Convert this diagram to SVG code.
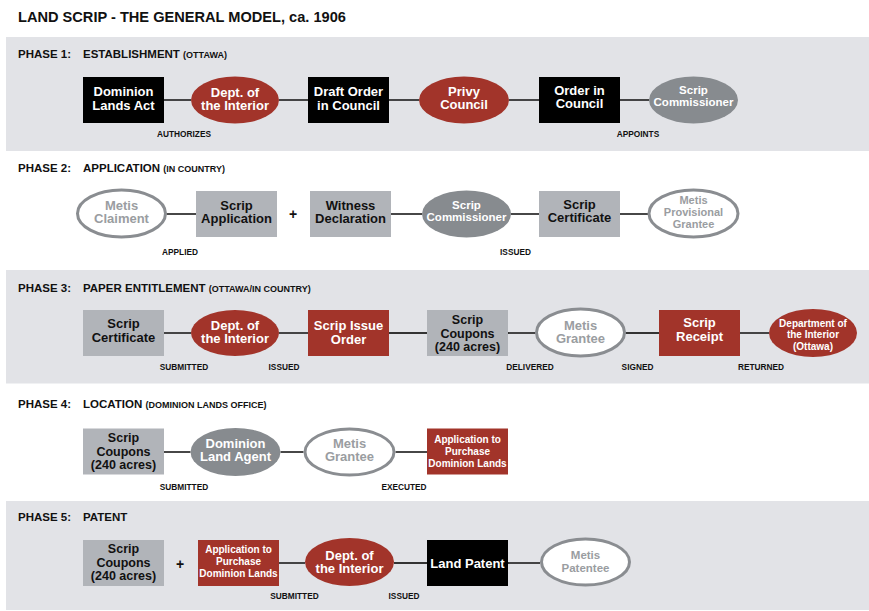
<svg xmlns="http://www.w3.org/2000/svg" width="869" height="611" viewBox="0 0 869 611">
<style>
text{font-family:"Liberation Sans",Arial,sans-serif;font-weight:bold;text-anchor:middle}
.title{font-size:14.6px;text-anchor:start;fill:#111}
.ph{font-size:11.5px;text-anchor:start;fill:#111}
.sub{font-size:9px}
.panel{fill:#e2e3e7}
.blk{fill:#000}
.red{fill:#a2342a}
.gr{fill:#b1b4b9}
.ge{fill:#878b8f}
.wh{fill:#fff;stroke:#8a8d91;stroke-width:3}
.t{font-size:13px}
.c{font-size:12.5px}
.tw{fill:#fff}
.tk{fill:#111}
.tg{fill:#9a9da1}
.s{font-size:11.5px}
.s3{font-size:11px}
.xs{font-size:10px}
.lbl{font-size:8.3px;fill:#111}
.plus{font-size:14px;fill:#111}
#connectors line{stroke:#333;stroke-width:1.8}
</style>
<rect class="panel" x="6" y="37" width="863" height="114"/>
<rect class="panel" x="6" y="270" width="863" height="113.5"/>
<rect class="panel" x="6" y="501" width="863" height="109"/>
<text class="title" x="18" y="22">LAND SCRIP - THE GENERAL MODEL, ca. 1906</text>
<text class="ph" x="18" y="58">PHASE 1:</text><text class="ph" x="83" y="58">ESTABLISHMENT <tspan class="sub">(OTTAWA)</tspan></text>
<text class="ph" x="18" y="172">PHASE 2:</text><text class="ph" x="83" y="172">APPLICATION <tspan class="sub">(IN COUNTRY)</tspan></text>
<text class="ph" x="18" y="292">PHASE 3:</text><text class="ph" x="83" y="292">PAPER ENTITLEMENT <tspan class="sub">(OTTAWA/IN COUNTRY)</tspan></text>
<text class="ph" x="18" y="408">PHASE 4:</text><text class="ph" x="83" y="408">LOCATION <tspan class="sub">(DOMINION LANDS OFFICE)</tspan></text>
<text class="ph" x="18" y="521">PHASE 5:</text><text class="ph" x="83" y="521">PATENT</text>

<g id="connectors">
<line x1="164" y1="100" x2="191" y2="100"/>
<line x1="279" y1="100" x2="308" y2="100"/>
<line x1="389" y1="100" x2="419" y2="100"/>
<line x1="509" y1="100" x2="539" y2="100"/>
<line x1="620" y1="100" x2="649" y2="100"/>
<line x1="166.5" y1="214" x2="196" y2="214"/>
<line x1="391" y1="214" x2="422" y2="214"/>
<line x1="511" y1="214" x2="539" y2="214"/>
<line x1="620" y1="214" x2="648" y2="214"/>
<line x1="164" y1="333" x2="191" y2="333"/>
<line x1="279" y1="333" x2="308" y2="333"/>
<line x1="389" y1="333" x2="427" y2="333"/>
<line x1="508" y1="333" x2="535.5" y2="333"/>
<line x1="625.5" y1="333" x2="659" y2="333"/>
<line x1="740" y1="333" x2="769" y2="333"/>
<line x1="164" y1="452" x2="190.5" y2="452"/>
<line x1="280.5" y1="452" x2="303.5" y2="452"/>
<line x1="395.5" y1="452" x2="427" y2="452"/>
<line x1="279" y1="563" x2="305" y2="563"/>
<line x1="394" y1="563" x2="427" y2="563"/>
<line x1="508" y1="563" x2="540" y2="563"/>
<text class="lbl" x="184" y="136.5">AUTHORIZES</text>
<text class="lbl" x="638" y="136.5">APPOINTS</text>
<text class="lbl" x="180" y="255">APPLIED</text>
<text class="lbl" x="515.5" y="255">ISSUED</text>
<text class="lbl" x="184" y="370">SUBMITTED</text>
<text class="lbl" x="284" y="370">ISSUED</text>
<text class="lbl" x="530" y="370">DELIVERED</text>
<text class="lbl" x="637.5" y="370">SIGNED</text>
<text class="lbl" x="761" y="370">RETURNED</text>
<text class="lbl" x="184" y="490">SUBMITTED</text>
<text class="lbl" x="404" y="490">EXECUTED</text>
<text class="lbl" x="294.5" y="599">SUBMITTED</text>
<text class="lbl" x="404" y="599">ISSUED</text>
</g>

<!-- Phase 1 -->
<g id="p1-dominion-lands-act"><rect class="blk" x="83" y="77" width="81" height="46"/><text class="t tw" x="123.5" y="96.3">Dominion<tspan x="123.5" dy="13.4">Lands Act</tspan></text></g>
<g id="p1-dept-interior"><ellipse class="red" cx="235" cy="100" rx="44" ry="23.5"/><text class="t tw" x="235" y="96.6">Dept. of<tspan x="235" dy="13.4">the Interior</tspan></text></g>
<g id="p1-draft-order"><rect class="blk" x="308" y="77" width="81" height="46"/><text class="t tw" x="348.5" y="96.3">Draft Order<tspan x="348.5" dy="13.4">in Council</tspan></text></g>
<g id="p1-privy-council"><ellipse class="red" cx="464" cy="100" rx="45" ry="23.5"/><text class="t tw" x="464" y="95.8">Privy<tspan x="464" dy="13.4">Council</tspan></text></g>
<g id="p1-order-in-council"><rect class="blk" x="539" y="77" width="81" height="46"/><text class="t tw" x="579.5" y="94.7">Order in<tspan x="579.5" dy="13.4">Council</tspan></text></g>
<g id="p1-scrip-commissioner"><ellipse class="ge" cx="693.5" cy="100" rx="44.5" ry="23.5"/><text class="s tw" x="693.5" y="94">Scrip<tspan x="693.5" dy="12">Commissioner</tspan></text></g>

<!-- Phase 2 -->
<g id="p2-metis-claiment"><ellipse class="wh" cx="121.5" cy="213.5" rx="44" ry="23.5"/><text class="t tg" x="121.5" y="210">Metis<tspan x="121.5" dy="13.4">Claiment</tspan></text></g>
<g id="p2-scrip-application"><rect class="gr" x="196" y="191" width="81" height="46"/><text class="t tk" x="236.5" y="209.5">Scrip<tspan x="236.5" dy="13.4">Application</tspan></text></g>
<text class="plus" x="293" y="218.5">+</text>
<g id="p2-witness-declaration"><rect class="gr" x="310" y="191" width="81" height="46"/><text class="t tk" x="350.5" y="209.7">Witness<tspan x="350.5" dy="13.4">Declaration</tspan></text></g>
<g id="p2-scrip-commissioner"><ellipse class="ge" cx="466.5" cy="214" rx="44.5" ry="23.5"/><text class="s tw" x="466.5" y="209">Scrip<tspan x="466.5" dy="12">Commissioner</tspan></text></g>
<g id="p2-scrip-certificate"><rect class="gr" x="539" y="191" width="81" height="46"/><text class="t tk" x="579.5" y="208.8">Scrip<tspan x="579.5" dy="13.4">Certificate</tspan></text></g>
<g id="p2-metis-provisional-grantee"><ellipse class="wh" cx="693.5" cy="213.5" rx="44.5" ry="23.5"/><text class="s3 tg" x="693.5" y="204">Metis<tspan x="693.5" dy="12">Provisional</tspan><tspan x="693.5" dy="12">Grantee</tspan></text></g>

<!-- Phase 3 -->
<g id="p3-scrip-certificate"><rect class="gr" x="83" y="310" width="81" height="46"/><text class="t tk" x="123.5" y="328.3">Scrip<tspan x="123.5" dy="13.4">Certificate</tspan></text></g>
<g id="p3-dept-interior"><ellipse class="red" cx="235" cy="333" rx="44" ry="23"/><text class="t tw" x="235" y="329.8">Dept. of<tspan x="235" dy="13.4">the Interior</tspan></text></g>
<g id="p3-scrip-issue-order"><rect class="red" x="308" y="310" width="81" height="46"/><text class="t tw" x="348.5" y="330.4">Scrip Issue<tspan x="348.5" dy="13.4">Order</tspan></text></g>
<g id="p3-scrip-coupons"><rect class="gr" x="427" y="310" width="81" height="46"/><text class="c tk" x="467.5" y="324">Scrip<tspan x="467.5" dy="13.5">Coupons</tspan><tspan x="467.5" dy="13.5">(240 acres)</tspan></text></g>
<g id="p3-metis-grantee"><ellipse class="wh" cx="580.5" cy="332.5" rx="44" ry="23.5"/><text class="t tg" x="580.5" y="330">Metis<tspan x="580.5" dy="13.4">Grantee</tspan></text></g>
<g id="p3-scrip-receipt"><rect class="red" x="659" y="310" width="81" height="46"/><text class="t tw" x="699.5" y="327.3">Scrip<tspan x="699.5" dy="13.4">Receipt</tspan></text></g>
<g id="p3-dept-interior-ottawa"><ellipse class="red" cx="813" cy="333" rx="44" ry="24"/><text class="xs tw" x="813" y="326.5">Department of<tspan x="813" dy="11.7">the Interior</tspan><tspan x="813" dy="11.7">(Ottawa)</tspan></text></g>

<!-- Phase 4 -->
<g id="p4-scrip-coupons"><rect class="gr" x="83" y="428.5" width="81" height="46"/><text class="c tk" x="123.5" y="442">Scrip<tspan x="123.5" dy="13.5">Coupons</tspan><tspan x="123.5" dy="13.5">(240 acres)</tspan></text></g>
<g id="p4-dominion-land-agent"><ellipse class="ge" cx="235.5" cy="452" rx="45" ry="24"/><text class="t tw" x="235.5" y="447.5">Dominion<tspan x="235.5" dy="13.5">Land Agent</tspan></text></g>
<g id="p4-metis-grantee"><ellipse class="wh" cx="349.5" cy="452" rx="44.5" ry="23"/><text class="t tg" x="349.5" y="447.5">Metis<tspan x="349.5" dy="13.5">Grantee</tspan></text></g>
<g id="p4-application"><rect class="red" x="427" y="428.5" width="81" height="46"/><text class="xs tw" x="467.5" y="443.2">Application to<tspan x="467.5" dy="11.7">Purchase</tspan><tspan x="467.5" dy="11.7">Dominion Lands</tspan></text></g>

<!-- Phase 5 -->
<g id="p5-scrip-coupons"><rect class="gr" x="83" y="540" width="81" height="46"/><text class="c tk" x="123.5" y="553.3">Scrip<tspan x="123.5" dy="13.5">Coupons</tspan><tspan x="123.5" dy="13.5">(240 acres)</tspan></text></g>
<text class="plus" x="180" y="569">+</text>
<g id="p5-application"><rect class="red" x="198" y="540" width="81" height="46"/><text class="xs tw" x="238.5" y="553.3">Application to<tspan x="238.5" dy="11.7">Purchase</tspan><tspan x="238.5" dy="11.7">Dominion Lands</tspan></text></g>
<g id="p5-dept-interior"><ellipse class="red" cx="349.5" cy="562" rx="44.5" ry="24"/><text class="t tw" x="349.5" y="560">Dept. of<tspan x="349.5" dy="13.4">the Interior</tspan></text></g>
<g id="p5-land-patent"><rect class="blk" x="427" y="540" width="81" height="46"/><text class="t tw" x="467.5" y="568">Land Patent</text></g>
<g id="p5-metis-patentee"><ellipse class="wh" cx="585.5" cy="562" rx="44" ry="23"/><text class="s tg" x="585.5" y="559">Metis<tspan x="585.5" dy="12.7">Patentee</tspan></text></g>
</svg>
